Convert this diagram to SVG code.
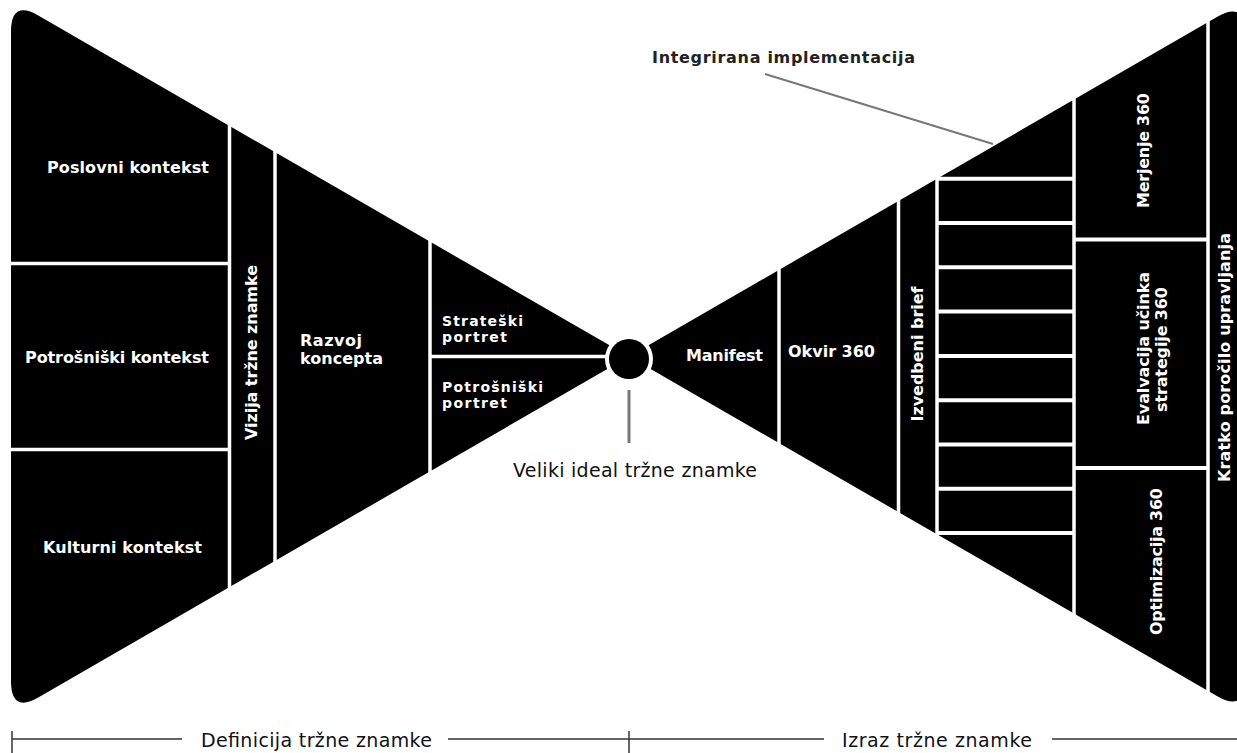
<svg xmlns="http://www.w3.org/2000/svg" width="1237" height="753" viewBox="0 0 1237 753">
<style>
.funnel{fill:#000}
.sep{stroke:#fff;stroke-width:3.5;fill:none}
.cellsep{stroke:#fff;stroke-width:4;fill:none}
.lbl{font-family:"DejaVu Sans",Verdana,sans-serif;font-weight:bold;font-size:16px;fill:#fff}
.sm{font-size:14px}
.cap{font-family:"DejaVu Sans",Verdana,sans-serif;font-size:19px;fill:#111}
.callout{font-family:"DejaVu Sans",Verdana,sans-serif;font-weight:bold;font-size:16px;fill:#222}
.conn{stroke:#777;fill:none}
.scale{stroke:#333;stroke-width:1.5;fill:none}
</style>
<rect width="1237" height="753" fill="#fff"/>

<g id="definition-funnel">
  <path class="funnel" d="M11,31.7 Q11,-0.3 38.7,15.7 L629,356.5 L38.7,697.3 Q11,713.3 11,681.3 Z"/>
  <line class="sep" x1="229.5" y1="122" x2="229.5" y2="591"/>
  <line class="sep" x1="275" y1="148" x2="275" y2="565"/>
  <line class="sep" x1="430" y1="238" x2="430" y2="475"/>
  <line class="sep" x1="9" y1="263.5" x2="229.5" y2="263.5"/>
  <line class="sep" x1="9" y1="449.5" x2="229.5" y2="449.5"/>
  <line class="sep" x1="430" y1="356.5" x2="629" y2="356.5"/>
</g>

<g id="expression-funnel">
  <path class="funnel" d="M629,356.5 L1217.3,16.8 Q1245,0.8 1245,32.8 L1245,680.2 Q1245,712.2 1217.3,696.2 Z"/>
  <line class="sep" x1="779" y1="266" x2="779" y2="447"/>
  <line class="sep" x1="898.5" y1="197" x2="898.5" y2="516"/>
  <line class="sep" x1="937" y1="175" x2="937" y2="538"/>
  <line class="sep" x1="1074" y1="96" x2="1074" y2="617"/>
  <line class="sep" x1="1208" y1="18" x2="1208" y2="695"/>
  <g id="grid-lines">
    <line class="cellsep" x1="937" y1="178.7" x2="1074" y2="178.7"/>
    <line class="cellsep" x1="937" y1="223" x2="1074" y2="223"/>
    <line class="cellsep" x1="937" y1="267.3" x2="1074" y2="267.3"/>
    <line class="cellsep" x1="937" y1="311.6" x2="1074" y2="311.6"/>
    <line class="cellsep" x1="937" y1="355.9" x2="1074" y2="355.9"/>
    <line class="cellsep" x1="937" y1="400.2" x2="1074" y2="400.2"/>
    <line class="cellsep" x1="937" y1="444.5" x2="1074" y2="444.5"/>
    <line class="cellsep" x1="937" y1="488.8" x2="1074" y2="488.8"/>
    <line class="cellsep" x1="937" y1="533.1" x2="1074" y2="533.1"/>
  </g>
  <line class="cellsep" x1="1074" y1="239.5" x2="1208" y2="239.5"/>
  <line class="cellsep" x1="1074" y1="468" x2="1208" y2="468"/>
</g>

<g id="big-ideal">
  <circle cx="629" cy="359" r="24" fill="#fff"/>
  <circle cx="629" cy="359" r="20" fill="#000"/>
</g>

<g id="connectors">
  <line class="conn" stroke-width="3" x1="629" y1="390" x2="629" y2="443"/>
  <line class="conn" stroke-width="2" stroke="#555" x1="765" y1="74" x2="993" y2="144"/>
  <path class="scale" d="M12,739 H182 M448,739 H824 M1052,739 H1237"/>
  <line class="scale" stroke-width="2.5" x1="12" y1="731" x2="12" y2="753"/>
  <line class="scale" stroke-width="2.5" x1="629" y1="731" x2="629" y2="753"/>
</g>

<g id="node-poslovni"><text class="lbl" x="47" y="173" textLength="162">Poslovni kontekst</text></g>
<g id="node-potrosniski-kontekst"><text class="lbl" x="25" y="363" textLength="184">Potrošniški kontekst</text></g>
<g id="node-kulturni"><text class="lbl" x="43" y="553" textLength="159">Kulturni kontekst</text></g>
<g id="node-vizija"><text class="lbl" transform="translate(257,352.5) rotate(-90)" text-anchor="middle" textLength="175">Vizija tržne znamke</text></g>
<g id="node-razvoj">
  <text class="lbl" x="300" y="346" textLength="62">Razvoj</text>
  <text class="lbl" x="300" y="364" textLength="83">koncepta</text>
</g>
<g id="node-strateski">
  <text class="lbl sm" x="442" y="326" textLength="81">Strateški</text>
  <text class="lbl sm" x="442" y="342" textLength="65">portret</text>
</g>
<g id="node-potrosniski-portret">
  <text class="lbl sm" x="442" y="392" textLength="101">Potrošniški</text>
  <text class="lbl sm" x="442" y="408" textLength="65">portret</text>
</g>
<g id="node-manifest"><text class="lbl" x="686" y="361" textLength="77">Manifest</text></g>
<g id="node-okvir"><text class="lbl" x="788" y="357" textLength="87">Okvir 360</text></g>
<g id="node-izvedbeni"><text class="lbl" transform="translate(923,354) rotate(-90)" text-anchor="middle" textLength="135">Izvedbeni brief</text></g>
<g id="node-merjenje"><text class="lbl" transform="translate(1149,150.5) rotate(-90)" text-anchor="middle" textLength="115">Merjenje 360</text></g>
<g id="node-evalvacija">
  <text class="lbl" transform="translate(1149,348.5) rotate(-90)" text-anchor="middle" textLength="153">Evalvacija učinka</text>
  <text class="lbl" transform="translate(1167,349.5) rotate(-90)" text-anchor="middle" textLength="125">strategije 360</text>
</g>
<g id="node-optimizacija"><text class="lbl" transform="translate(1162,561.5) rotate(-90)" text-anchor="middle" textLength="147">Optimizacija 360</text></g>
<g id="node-kratko"><text class="lbl" transform="translate(1230,357.5) rotate(-90)" text-anchor="middle" textLength="249">Kratko poročilo upravljanja</text></g>

<g id="label-integrirana"><text class="callout" x="652" y="63" textLength="263">Integrirana implementacija</text></g>
<g id="label-veliki"><text class="cap" x="513" y="477" textLength="244">Veliki ideal tržne znamke</text></g>
<g id="label-definicija"><text class="cap" x="201" y="747" textLength="231">Definicija tržne znamke</text></g>
<g id="label-izraz"><text class="cap" x="842" y="747" textLength="190">Izraz tržne znamke</text></g>
</svg>
